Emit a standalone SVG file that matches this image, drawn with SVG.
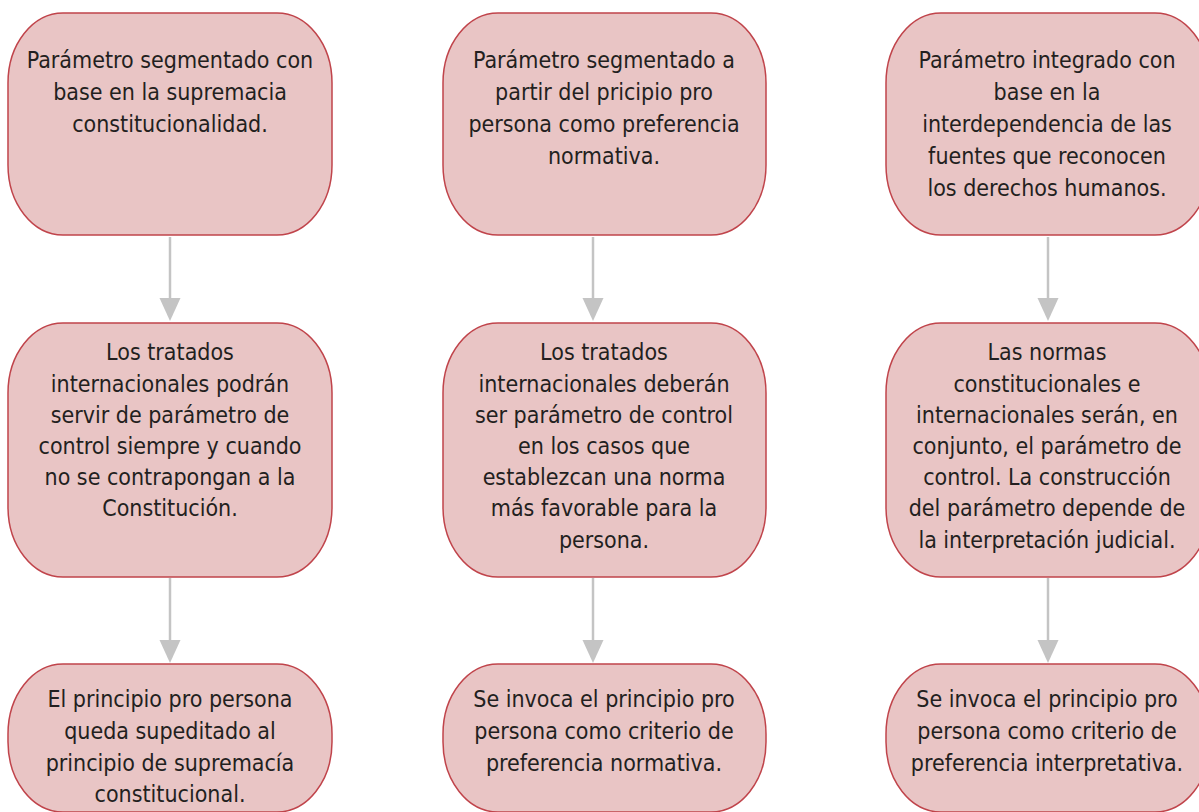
<svg xmlns="http://www.w3.org/2000/svg" width="1199" height="812" viewBox="0 0 1199 812">
<style>
.box{fill:#e9c5c5;stroke:#c0444b;stroke-width:1.5}
.t{font-family:"DejaVu Sans Condensed","DejaVu Sans",sans-serif;font-size:23px;fill:#231f20;text-anchor:middle}
.c{stroke:#c4c4c4;stroke-width:2.5;fill:none}
.h{fill:#c4c4c4}
</style>
<rect width="1199" height="812" fill="#ffffff"/>
<g id="connectors">
<line class="c" x1="170" y1="237" x2="170" y2="300"/><polygon class="h" points="159.5,298 180.5,298 170,321"/>
<line class="c" x1="170" y1="578" x2="170" y2="642"/><polygon class="h" points="159.5,640 180.5,640 170,663"/>
<line class="c" x1="593" y1="237" x2="593" y2="300"/><polygon class="h" points="582.5,298 603.5,298 593,321"/>
<line class="c" x1="593" y1="578" x2="593" y2="642"/><polygon class="h" points="582.5,640 603.5,640 593,663"/>
<line class="c" x1="1048" y1="237" x2="1048" y2="300"/><polygon class="h" points="1037.5,298 1058.5,298 1048,321"/>
<line class="c" x1="1048" y1="578" x2="1048" y2="642"/><polygon class="h" points="1037.5,640 1058.5,640 1048,663"/>
</g>
<g id="n1">
<rect class="box" x="8" y="13" width="324" height="222" rx="55" ry="70"/>
<text class="t"><tspan x="170" y="68">Parámetro segmentado con</tspan><tspan x="170" y="100">base en la supremacia</tspan><tspan x="170" y="132">constitucionalidad.</tspan></text>
</g>
<g id="n2">
<rect class="box" x="8" y="323" width="324" height="254" rx="55" ry="70"/>
<text class="t"><tspan x="170" y="360">Los tratados</tspan><tspan x="170" y="392">internacionales podrán</tspan><tspan x="170" y="423">servir de parámetro de</tspan><tspan x="170" y="454">control siempre y cuando</tspan><tspan x="170" y="485">no se contrapongan a la</tspan><tspan x="170" y="516">Constitución.</tspan></text>
</g>
<g id="n3">
<rect class="box" x="8" y="664" width="324" height="148" rx="55" ry="70"/>
<text class="t"><tspan x="170" y="707">El principio pro persona</tspan><tspan x="170" y="739">queda supeditado al</tspan><tspan x="170" y="771">principio de supremacía</tspan><tspan x="170" y="802">constitucional.</tspan></text>
</g>
<g id="n4">
<rect class="box" x="443" y="13" width="323" height="222" rx="55" ry="70"/>
<text class="t"><tspan x="604" y="68">Parámetro segmentado a</tspan><tspan x="604" y="100">partir del pricipio pro</tspan><tspan x="604" y="132">persona como preferencia</tspan><tspan x="604" y="164">normativa.</tspan></text>
</g>
<g id="n5">
<rect class="box" x="443" y="323" width="323" height="254" rx="55" ry="70"/>
<text class="t"><tspan x="604" y="360">Los tratados</tspan><tspan x="604" y="392">internacionales deberán</tspan><tspan x="604" y="423">ser parámetro de control</tspan><tspan x="604" y="454">en los casos que</tspan><tspan x="604" y="485">establezcan una norma</tspan><tspan x="604" y="516">más favorable para la</tspan><tspan x="604" y="548">persona.</tspan></text>
</g>
<g id="n6">
<rect class="box" x="443" y="664" width="323" height="148" rx="55" ry="70"/>
<text class="t"><tspan x="604" y="707">Se invoca el principio pro</tspan><tspan x="604" y="739">persona como criterio de</tspan><tspan x="604" y="771">preferencia normativa.</tspan></text>
</g>
<g id="n7">
<rect class="box" x="886" y="13" width="324" height="222" rx="55" ry="70"/>
<text class="t"><tspan x="1047" y="68">Parámetro integrado con</tspan><tspan x="1047" y="100">base en la</tspan><tspan x="1047" y="132">interdependencia de las</tspan><tspan x="1047" y="164">fuentes que reconocen</tspan><tspan x="1047" y="196">los derechos humanos.</tspan></text>
</g>
<g id="n8">
<rect class="box" x="886" y="323" width="324" height="254" rx="55" ry="70"/>
<text class="t"><tspan x="1047" y="360">Las normas</tspan><tspan x="1047" y="392">constitucionales e</tspan><tspan x="1047" y="423">internacionales serán, en</tspan><tspan x="1047" y="454">conjunto, el parámetro de</tspan><tspan x="1047" y="485">control. La construcción</tspan><tspan x="1047" y="516">del parámetro depende de</tspan><tspan x="1047" y="548">la interpretación judicial.</tspan></text>
</g>
<g id="n9">
<rect class="box" x="886" y="664" width="324" height="148" rx="55" ry="70"/>
<text class="t"><tspan x="1047" y="707">Se invoca el principio pro</tspan><tspan x="1047" y="739">persona como criterio de</tspan><tspan x="1047" y="771">preferencia interpretativa.</tspan></text>
</g>
</svg>
